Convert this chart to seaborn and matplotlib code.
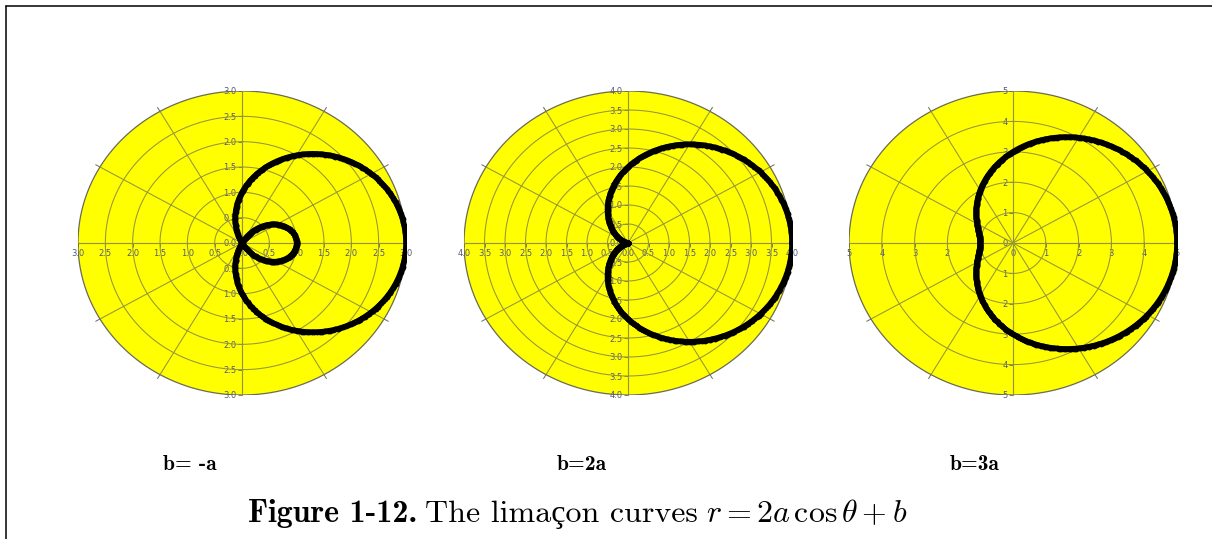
import numpy as np
import pandas as pd
import matplotlib
matplotlib.use('Agg')
import matplotlib.pyplot as plt
import seaborn as sns
from matplotlib.ticker import MultipleLocator, FuncFormatter
from matplotlib.lines import Line2D

# limacon r = 2a cos(theta) + b, one panel per b
panel_labels = ['b= -a', 'b=2a', 'b=3a']
a_vals = [1, 1, 1]
b_vals = [-1, 2, 3]
r_limits = [3.0, 4.0, 5.0]
ring_steps = [0.5, 0.5, 1.0]
label_fmts = ['{:.1f}', '{:.1f}', '{:.0f}']
spoke_angles = [30, 60, 120, 150, 210, 240, 300, 330]

sns.set_theme(style='white')
plt.rcParams['mathtext.fontset'] = 'cm'

W, H = 1212, 539
fig = plt.figure(figsize=(W / 100, H / 100), dpi=100)

centers_x = [242, 628, 1013]
label_left = [163, 557, 950]
center_y = 243
rx, ry = 164, 152
grid_col = '#94943a'
rim_col = '#6a6a58'
lab_col = '#55587a'

t = np.linspace(0, 2 * np.pi, 721)
for i in range(3):
    ax = fig.add_axes([(centers_x[i] - rx) / W, (H - center_y - ry) / H, 2 * rx / W, 2 * ry / H])
    ax.set_facecolor('none')
    R = r_limits[i]
    step = ring_steps[i]

    # yellow disc + rim
    ax.fill(R * np.cos(t), R * np.sin(t), color='#ffff00', zorder=0, lw=0)
    ax.plot(R * np.cos(t), R * np.sin(t), color=rim_col, lw=0.9, zorder=1)

    # rings and spokes
    for rr in np.arange(step, R - 1e-9, step):
        ax.plot(rr * np.cos(t), rr * np.sin(t), color=grid_col, lw=0.75, zorder=1)
    for ang in spoke_angles:
        c, s = np.cos(np.radians(ang)), np.sin(np.radians(ang))
        ax.plot([0, R * c], [0, R * s], color=grid_col, lw=0.75, zorder=1)
        ax.plot([R * c, 1.03 * R * c], [R * s, 1.03 * R * s], color=rim_col, lw=0.7,
                zorder=1, clip_on=False)

    # the curve
    theta = np.linspace(0, 2 * np.pi, 361)
    r = 2 * a_vals[i] * np.cos(theta) + b_vals[i]
    df = pd.DataFrame({'x': r * np.cos(theta), 'y': r * np.sin(theta)})
    sns.lineplot(data=df, x='x', y='y', sort=False, estimator=None, color='black',
                 lw=4.0, marker='o', markersize=4.2, markeredgewidth=0, ax=ax, zorder=5)

    ax.set_xlim(-R, R)
    ax.set_ylim(-R, R)
    ax.set_xlabel('')
    ax.set_ylabel('')

    # axes through the centre
    for side in ['top', 'right']:
        ax.spines[side].set_visible(False)
    for side in ['left', 'bottom']:
        ax.spines[side].set_position(('data', 0))
        ax.spines[side].set_color(grid_col)
        ax.spines[side].set_linewidth(0.85)
        ax.spines[side].set_zorder(1.5)

    fmt = label_fmts[i]
    ax.xaxis.set_major_locator(MultipleLocator(step))
    ax.yaxis.set_major_locator(MultipleLocator(step))
    ax.xaxis.set_major_formatter(FuncFormatter(lambda v, p, f=fmt: f.format(abs(v))))
    ax.yaxis.set_major_formatter(FuncFormatter(lambda v, p, f=fmt: f.format(abs(v))))
    ax.tick_params(bottom=True, left=True, direction='out', length=3, width=0.6,
                   color=rim_col, labelsize=6, labelcolor=lab_col, pad=1)

    fig.text(label_left[i] / W, 1 - 465 / H, panel_labels[i], fontfamily='cmb10',
             fontsize=15.5, ha='left', va='center', color='black')

# caption built from three pieces
renderer = fig.canvas.get_renderer()
pieces = [
    ('Figure 1-12.', ['cmb10', 'Liberation Serif']),
    ('The limaçon curves', ['cmr10', 'Liberation Serif']),
    (r'$r = 2a\,\cos\theta + b$', ['cmr10', 'Liberation Serif']),
]
gap = 8
texts = []
for s, fam in pieces:
    tx = fig.text(0, 1 - 522 / H, s, fontfamily=fam, fontsize=23, ha='left',
                  va='baseline', color='black')
    texts.append(tx)
widths = [tx.get_window_extent(renderer).width for tx in texts]
total = sum(widths) + gap * (len(widths) - 1)
x0 = 578 - total / 2
for tx, w in zip(texts, widths):
    tx.set_x(x0 / W)
    x0 += w + gap

# page frame (top and left edges)
fig.add_artist(Line2D([6 / W, 1], [1 - 6 / H, 1 - 6 / H], color='black', lw=1.1))
fig.add_artist(Line2D([6 / W, 6 / W], [0, 1 - 6 / H], color='black', lw=1.1))

fig.savefig('out.png', dpi=100)
